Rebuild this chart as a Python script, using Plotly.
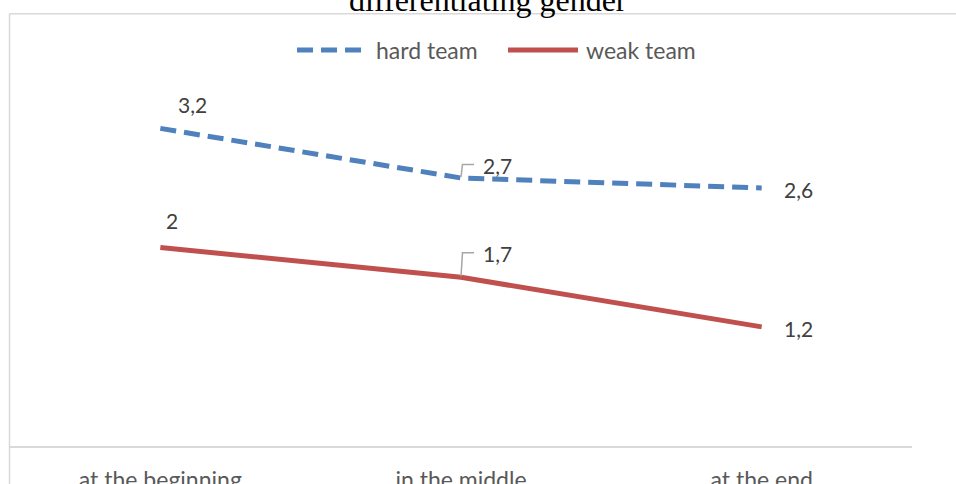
import plotly.graph_objects as go

# ---- data ----
categories = ["at the beginning", "in the middle", "at the end"]
hard_team = [3.2, 2.7, 2.6]
weak_team = [2.0, 1.7, 1.2]
hard_labels = ["3,2", "2,7", "2,6"]
weak_labels = ["2", "1,7", "1,2"]
series_names = ["hard team", "weak team"]
title_text = "differentiating gender"

# ---- style ----
K = 1.039  # vertical compensation for the capture
W, H = 956, round(484 * K)
PL, PR = 10, 912
PT, PB = 47 * K, 447 * K  # plot area in pixels
BLUE = "#4f81bd"
RED = "#c0504d"
GRID = "#d9d9d9"
TXT = "#595959"
LBL = "#404040"
FONT = "Lato"

def px(x):
    return (x - PL) / (PR - PL)

def py(y):
    return (PB - y * K) / (PB - PT)

fig = go.Figure()
fig.add_trace(go.Scatter(x=categories, y=hard_team, mode="lines", name=series_names[0],
                         line=dict(color=BLUE, width=5, dash="16px,8px"), showlegend=False,
                         hoverinfo="skip"))
fig.add_trace(go.Scatter(x=categories, y=weak_team, mode="lines", name=series_names[1],
                         line=dict(color=RED, width=5), showlegend=False, hoverinfo="skip"))

# data labels (offsets in pixels)
hard_shift = [(32, 23), (36.5, 12), (37, -1.5)]
weak_shift = [(12, 26), (36.5, 22.5), (37, -2)]
annotations = []
for vals, labs, shifts in ((hard_team, hard_labels, hard_shift), (weak_team, weak_labels, weak_shift)):
    for c, v, t, (dx, dy) in zip(categories, vals, labs, shifts):
        annotations.append(dict(x=c, y=v, xref="x", yref="y", text=t, showarrow=False,
                                xanchor="center", yanchor="middle", xshift=dx, yshift=dy * K,
                                font=dict(family=FONT, size=21, color=LBL)))

# legend (manual)
annotations.append(dict(x=px(374), y=py(48), xref="paper", yref="paper", text=series_names[0],
                        showarrow=False, xanchor="left", yanchor="middle",
                        font=dict(family=FONT, size=23, color=TXT)))
annotations.append(dict(x=px(584), y=py(48), xref="paper", yref="paper", text=series_names[1],
                        showarrow=False, xanchor="left", yanchor="middle",
                        font=dict(family=FONT, size=23, color=TXT)))
# title (cut off at the top)
annotations.append(dict(x=px(488), y=py(18), xref="paper", yref="paper", text=title_text,
                        showarrow=False, xanchor="center", yanchor="bottom",
                        font=dict(family="Liberation Serif", size=32, color="#000000")))

shapes = [
    # chart area border (left and top)
    dict(type="line", xref="paper", yref="paper", x0=px(9.5), x1=px(960), y0=py(11.5), y1=py(11.5),
         line=dict(color=GRID, width=1.5)),
    dict(type="line", xref="paper", yref="paper", x0=px(9.5), x1=px(9.5), y0=py(11.5), y1=py(490),
         line=dict(color=GRID, width=1.5)),
    # legend samples
    dict(type="line", xref="paper", yref="paper", x0=px(297), x1=px(362), y0=py(48), y1=py(48),
         line=dict(color=BLUE, width=5, dash="16px,8px")),
    dict(type="line", xref="paper", yref="paper", x0=px(508), x1=px(578), y0=py(48), y1=py(48),
         line=dict(color=RED, width=5)),
    # leader lines for middle labels
    dict(type="path", xref="x", yref="y", xsizemode="pixel", ysizemode="pixel",
         xanchor=categories[1], yanchor=hard_team[1], path="M 0,1 L 1.5,13.5 L 13,13.5",
         line=dict(color="#a6a6a6", width=1.5)),
    dict(type="path", xref="x", yref="y", xsizemode="pixel", ysizemode="pixel",
         xanchor=categories[1], yanchor=weak_team[1], path="M 0,1 L 1.5,24.5 L 13,24.5",
         line=dict(color="#a6a6a6", width=1.5)),
]

fig.update_layout(
    width=W, height=H,
    margin=dict(l=PL, r=W - PR, t=PT, b=H - PB, pad=0),
    paper_bgcolor="white", plot_bgcolor="white",
    showlegend=False,
    annotations=annotations,
    shapes=shapes,
    xaxis=dict(type="category", range=[-0.5, 2.5], showgrid=False, zeroline=False,
               showline=True, linecolor=GRID, linewidth=2, ticks="",
               tickfont=dict(family=FONT, size=23, color=TXT), ticklabelstandoff=12,
               fixedrange=True),
    yaxis=dict(range=[0, 4], showgrid=False, zeroline=False, showticklabels=False,
               showline=False, fixedrange=True),
)

fig.write_html("out.html", config={"displayModeBar": False},
               post_script="document.body.style.margin='0';document.body.style.overflow='hidden';")
